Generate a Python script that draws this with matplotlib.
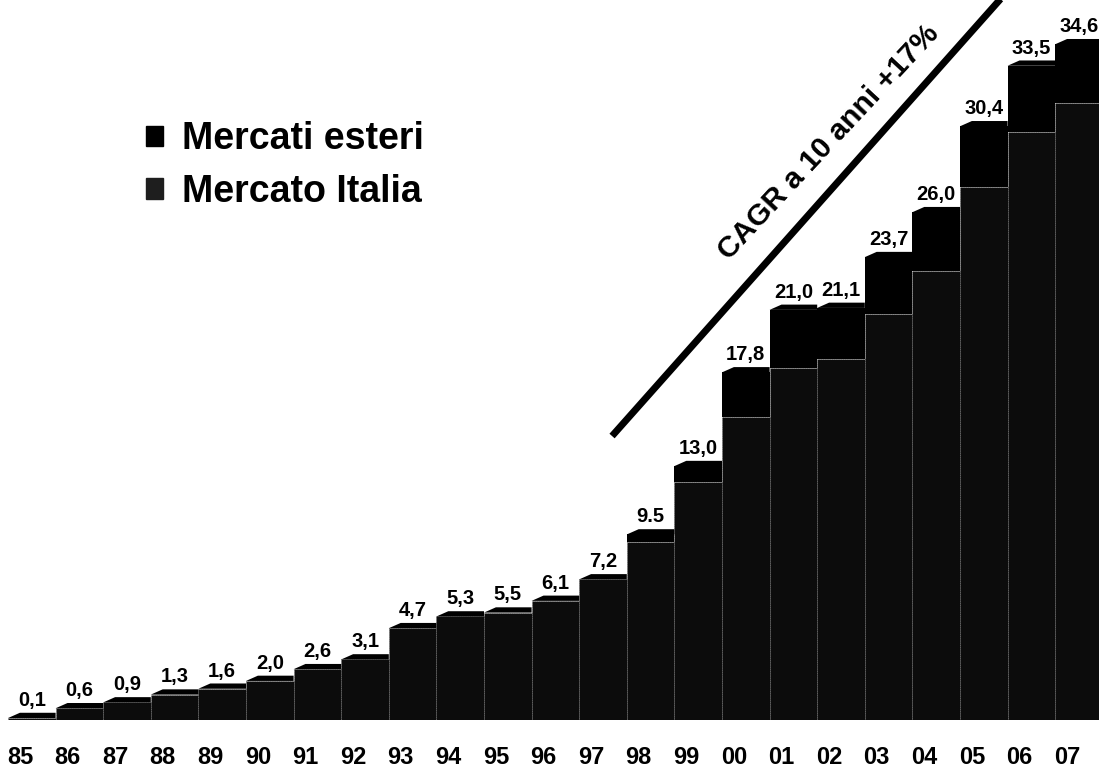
import matplotlib.pyplot as plt
import matplotlib.patches as mpatches
from matplotlib.patches import Polygon

plt.rcParams['font.family'] = ['Liberation Sans', 'DejaVu Sans']

# Years and totals (ricavi, values as printed on the chart)
years = ['85', '86', '87', '88', '89', '90', '91', '92', '93', '94', '95', '96',
         '97', '98', '99', '00', '01', '02', '03', '04', '05', '06', '07']
totals = [0.1, 0.6, 0.9, 1.3, 1.6, 2.0, 2.6, 3.1, 4.7, 5.3, 5.5, 6.1,
          7.2, 9.5, 13.0, 17.8, 21.0, 21.1, 23.7, 26.0, 30.4, 33.5, 34.6]
labels = ['0,1', '0,6', '0,9', '1,3', '1,6', '2,0', '2,6', '3,1', '4,7', '5,3', '5,5', '6,1',
          '7,2', '9.5', '13,0', '17,8', '21,0', '21,1', '23,7', '26,0', '30,4', '33,5', '34,6']
# foreign markets share (estimated, hardly visible in the picture)
esteri = [0, 0, 0, 0, 0, 0, 0, 0, 0, 0, 0, 0,
          0, 0.4, 0.8, 2.3, 3.0, 2.6, 2.9, 3.0, 3.1, 3.4, 3.0]
italia = [t - e for t, e in zip(totals, esteri)]

C_ESTERI = '#000000'
C_ITALIA = '#0c0c0c'

fig = plt.figure(figsize=(10.99, 7.72), dpi=100)
ax = fig.add_axes([8 / 1099, 52 / 772, 1 - 8 / 1099, 1 - 52 / 772])

x = list(range(len(years)))
ax.bar(x, italia, width=1.0, color=C_ITALIA, edgecolor='#6a6a6a', linewidth=0.6,
       linestyle=':', zorder=2)
ax.bar(x, esteri, bottom=italia, width=1.0, color=C_ESTERI, linewidth=0, zorder=2)

# 3D-ish bevel on top of each bar
BEV = 0.27
for xi, t in zip(x, totals):
    ax.add_patch(Polygon([(xi - 0.5, t), (xi - 0.25, t + BEV), (xi + 0.5, t + BEV),
                          (xi + 0.5, t)], closed=True, color='black', lw=0, zorder=3))
    ax.annotate(labels[xi], (xi, t + BEV), xytext=(0, 5), textcoords='offset points',
                ha='center', va='baseline', fontsize=14.5, fontweight='bold', zorder=4)

# CAGR trend line
ax.plot([12.19, 20.6], [14.54, 37.6], color='black', lw=5, solid_capstyle='butt',
        clip_on=True, zorder=5)
ax.text(16.75, 29.6, 'CAGR a 10 anni +17%', rotation=47, rotation_mode='anchor',
        ha='center', va='center', fontsize=21.5, fontweight='bold')

ax.set_xlim(-0.5, -0.5 + 1091 / 47.6)
ax.set_ylim(0, 720 / 19.53)
ax.set_xticks([xi - 0.25 for xi in x])
ax.set_xticklabels(years, fontsize=17, fontweight='bold')
ax.tick_params(axis='x', length=0, pad=19)
ax.set_yticks([])
for s in ax.spines.values():
    s.set_visible(False)

handles = [mpatches.Patch(color=C_ESTERI, label='Mercati esteri'),
           mpatches.Patch(color='#1e1e1e', label='Mercato Italia')]
leg = fig.legend(handles=handles, loc='upper left', bbox_to_anchor=(146 / 1099, 1 - 121 / 772),
                 frameon=False, fontsize=27, handlelength=0.45, handleheight=0.45,
                 handletextpad=0.5, labelspacing=0.45, borderaxespad=0, borderpad=0)
for t in leg.get_texts():
    t.set_fontweight('bold')

plt.savefig('out.png', dpi=100)
